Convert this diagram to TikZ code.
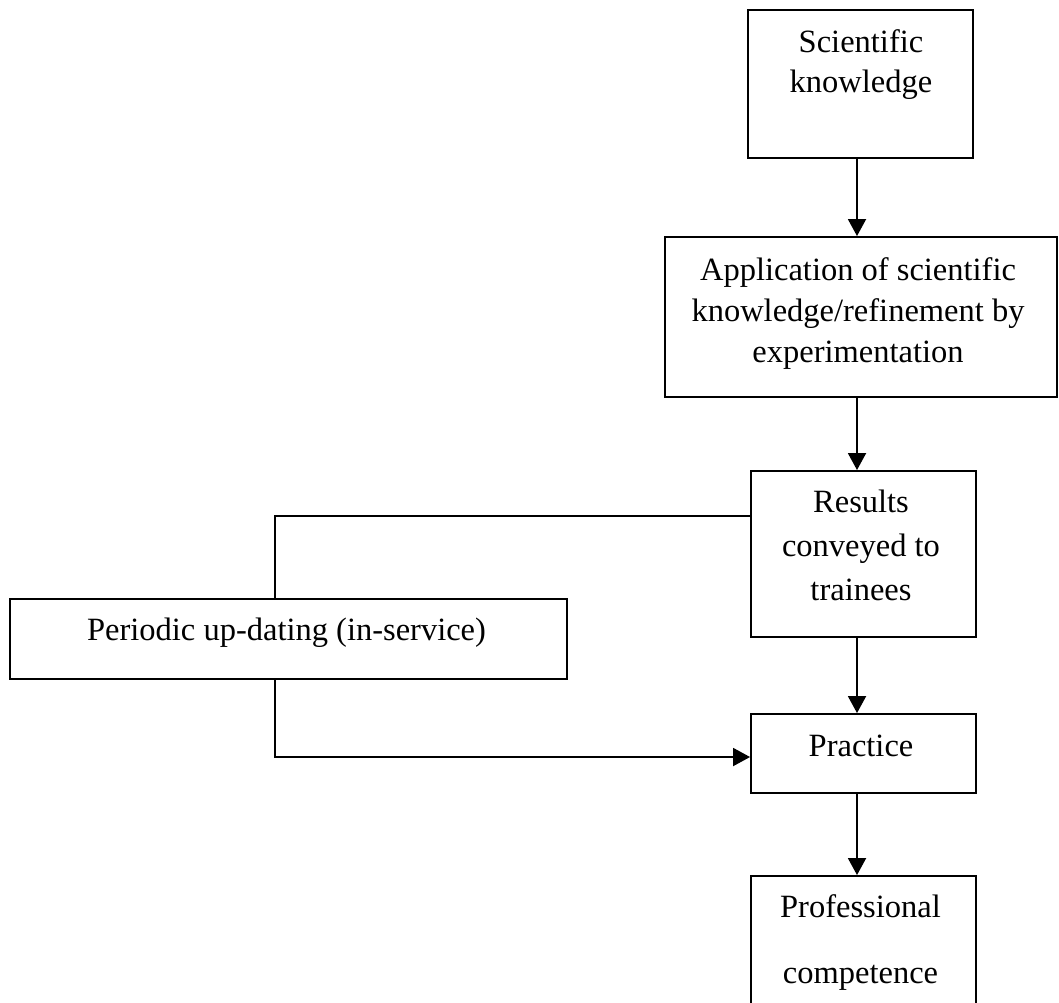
\documentclass[tikz,border=0pt]{standalone}
\usepackage{fontspec}
\setmainfont{Liberation Serif}
\usetikzlibrary{arrows.meta}
\begin{document}
\begin{tikzpicture}[x=1pt,y=-1pt,
  box/.style={draw, line width=1.9pt, inner sep=0pt, rectangle},
  lbl/.style={anchor=base, inner sep=0pt, font=\fontsize{32.5}{41}\selectfont},
  conn/.style={line width=1.9pt},
  arr/.style={line width=1.9pt, -{Triangle[width=18pt,length=17pt]}}]
\useasboundingbox (0,0) rectangle (1059,1002);
\fill[white] (0,0) rectangle (1059,1002);
\clip (0,0) rectangle (1059,1002);
% boxes
\node[box, minimum width=225pt, minimum height=148pt] (sk) at (860.5,84) {};
\node[box, minimum width=392pt, minimum height=160pt] (app) at (861,317) {};
\node[box, minimum width=225pt, minimum height=166pt] (res) at (863.5,554) {};
\node[box, minimum width=557pt, minimum height=80pt] (per) at (288.5,639) {};
\node[box, minimum width=225pt, minimum height=79pt] (pra) at (863.5,753.5) {};
\node[box, minimum width=225pt, minimum height=140pt] (pro) at (863.5,946) {};
% texts
\node[lbl] (skt) at (861,52) {\begin{tabular}[t]{@{}c@{}}Scientific\\[-1pt] knowledge\end{tabular}};
\node[lbl] (appt) at (858,280) {\begin{tabular}[t]{@{}c@{}}Application of scientific\\ knowledge/refinement by\\ experimentation\end{tabular}};
\node[lbl] (rest) at (861,512) {\begin{tabular}[t]{@{}c@{}}Results\\[3pt] conveyed to\\[3pt] trainees\end{tabular}};
\node[lbl] (pert) at (286.5,640) {Periodic up-dating (in-service)};
\node[lbl] (prat) at (861,756) {Practice};
\node[lbl] (prot) at (860.5,917) {\begin{tabular}[t]{@{}c@{}}Professional\\[25pt] competence\end{tabular}};
% connectors
\coordinate (ax) at (857,0);
\draw[arr] (sk.south -| ax) -- (app.north -| ax);
\draw[arr] (app.south -| ax) -- (res.north -| ax);
\draw[arr] (res.south -| ax) -- (pra.north -| ax);
\draw[arr] (pra.south -| ax) -- (pro.north -| ax);
\draw[conn] ([yshift=38pt]res.west) -| ([xshift=-13.5pt]per.north);
\draw[arr] ([xshift=-13.5pt]per.south) |- ([yshift=-3.5pt]pra.west);
\end{tikzpicture}
\end{document}
